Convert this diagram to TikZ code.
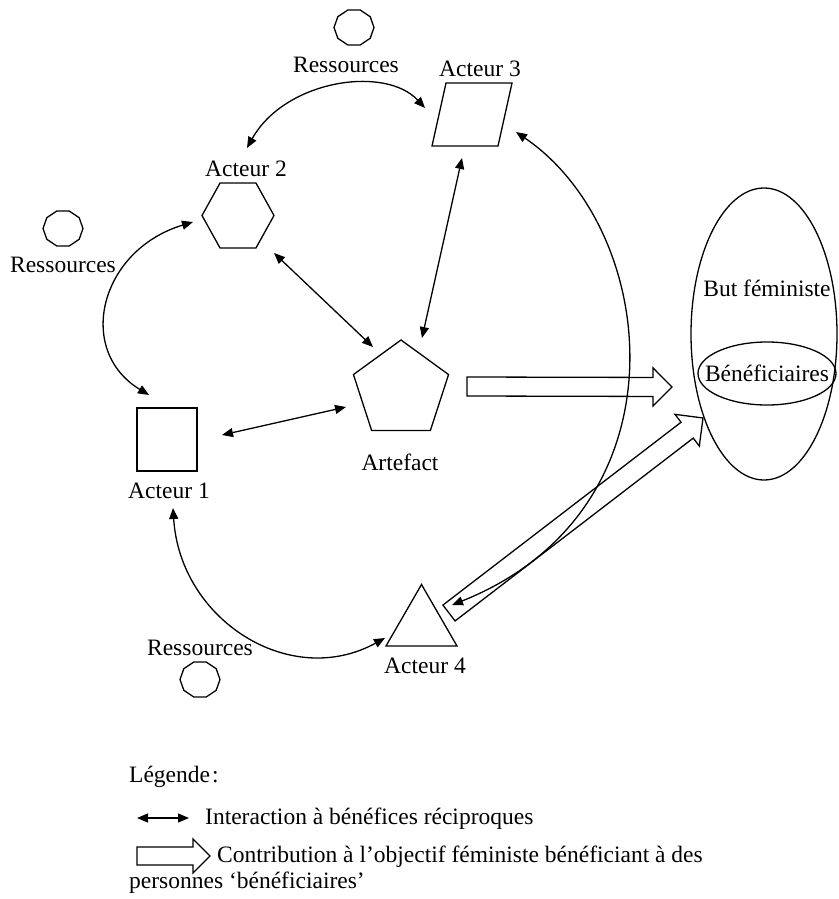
\documentclass[tikz,border=0pt]{standalone}
\usepackage{fontspec}
\setmainfont{Liberation Serif}
\usetikzlibrary{calc,arrows.meta,shapes.geometric}
\newcommand\fatarr[5]{% #1 tail, #2 tip, #3 shaft half, #4 head half, #5 head length
  \draw[fat] ($(#1)!#3!90:(#2)$)
    -- ($($(#2)!#5!(#1)$)!#3!90:(#2)$)
    -- ($($(#2)!#5!(#1)$)!#4!90:(#2)$)
    -- (#2)
    -- ($($(#2)!#5!(#1)$)!#4!-90:(#2)$)
    -- ($($(#2)!#5!(#1)$)!#3!-90:(#2)$)
    -- ($(#1)!#3!-90:(#2)$) -- cycle;}
\tikzset{pics/decag/.style={code={%
  \draw[shp] (20,0) \foreach \a in {36,72,...,324}{-- ({20*cos(\a)},{18.4*sin(\a)})} -- cycle;}}}
\begin{document}
\begin{tikzpicture}[x=1pt,y=-1pt,
  every node/.style={font=\fontsize{23.5}{28}\selectfont, inner sep=0pt},
  shp/.style={draw, line width=1.3pt},
  dbl/.style={line width=1.3pt, {Triangle[length=11pt,width=9pt]}-{Triangle[length=11pt,width=9pt]}},
  fat/.style={draw, line width=1.3pt, line join=miter}]
\useasboundingbox (0,0) rectangle (838,899);

% resources
\pic (resT) at (354,27.5) {decag};
\pic (resL) at (63,228.5) {decag};
\pic (resB) at (200,679.5) {decag};
\node (rt) at (346,64.5) {Ressources};
\node (rl) at (63,264.5) {Ressources};
\node (rb) at (200,648) {Ressources};

% actors
\node[shp, minimum width=60pt, minimum height=63pt] (a1) at (167,439.5) {};
\node[shp, regular polygon, regular polygon sides=6, minimum size=72pt, yscale=1.04] (a2) at (238,215.5) {};
\node[minimum width=80pt, minimum height=63pt] (a3) at (472,114.5) {};
\draw[shp] (a3.center) ++(-26,-31.5) -- ++(66,0) -- ++(-14,63) -- ++(-66,0) -- cycle;
\node[shp, regular polygon, regular polygon sides=5, minimum size=100pt] (art) at (401,390) {};
\node[shp, regular polygon, regular polygon sides=3, minimum size=82pt] (a4) at (421.5,625.5) {};
\node[shp, ellipse, minimum width=146pt, minimum height=292pt] (but) at (764,334) {};
\node[shp, ellipse, minimum width=138pt, minimum height=63pt] (ben) at (767,373.5) {};

\node (l1) at (169,491) {Acteur 1};
\node (l2) at (246,168.5) {Acteur 2};
\node (l3) at (480,68.5) {Acteur 3};
\node (l4) at (425,666) {Acteur 4};
\node (lart) at (400,462) {Artefact};
\node (lbut) at (767,288) {But féministe};
\node (lben) at (ben) {Bénéficiaires};

% reciprocal interactions
\draw[dbl] ($(a2)+(9,-67.5)$) .. controls (285,80) and (385,65) .. ($(a3)+(-47,-6.5)$);
\draw[dbl] ($(a2)+(-45,6.5)$) .. controls (100,250) and (75,350) .. ($(a1)+(-18,-44.5)$);
\draw[dbl] ($(a1)+(6,68.5)$) .. controls (180,620) and (290,690) .. ($(a4)+(-36.5,12.5)$);
\draw[dbl] ($(a3)+(-10,43.5)$) -- ($(art)+(21,-52)$);
\draw[dbl] ($(a2)+(36,37.5)$) -- ($(art)+(-28,-43)$);
\draw[dbl] ($(a1)+(55,-4.5)$) -- ($(art)+(-55,17)$);
\draw[dbl] ($(a4)+(30.5,-20.5)$) .. controls (690,510) and (660,230) .. ($(a3)+(44,17.5)$);

% contributions
\coordinate (f1a) at ($(art)+(66,-3.5)$);
\coordinate (f1b) at ($(but)+(-92,53)$);
\coordinate (f2a) at ($(a4)+(27.5,-12.5)$);
\coordinate (f2b) at ($(but)+(-61,84)$);
\fatarr{f1a}{f1b}{9.5pt}{19pt}{19pt}
\fatarr{f2a}{f2b}{10pt}{20pt}{20pt}

% legend
\node[anchor=west] (leg) at (129,777) {Légende\kern2pt:};
\coordinate (lg1a) at (137,818);
\coordinate (lg1b) at (189,818);
\draw[dbl] (lg1a) -- (lg1b);
\node[anchor=west] (lgt1) at (205,819) {Interaction à bénéfices réciproques};
\coordinate (lg2a) at (137,856);
\coordinate (lg2b) at (210,856);
\fatarr{lg2a}{lg2b}{9pt}{17pt}{17pt}
\node[anchor=west] (lgt2) at (217,857) {Contribution à l’objectif féministe bénéficiant à des};
\node[anchor=west] (lgt3) at (129,883) {personnes ‘bénéficiaires’};
\end{tikzpicture}
\end{document}
